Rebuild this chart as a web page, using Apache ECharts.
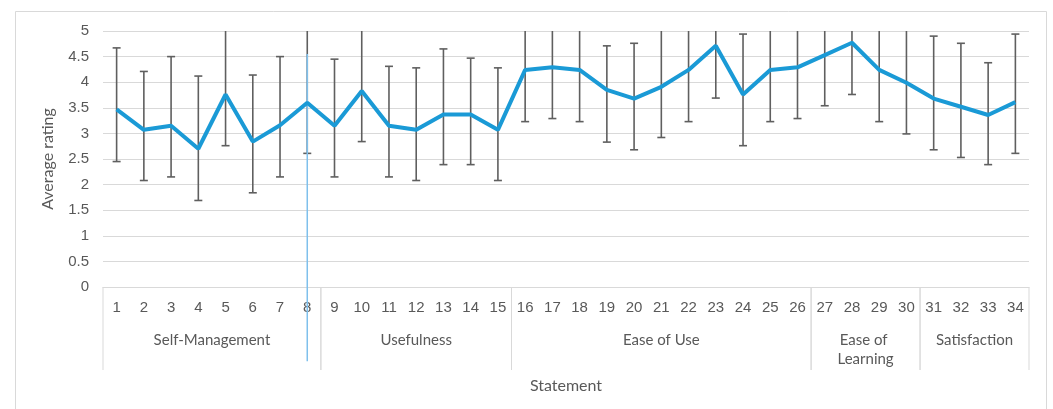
<!DOCTYPE html>
<html>
<head>
<meta charset="utf-8">
<script src="https://cdn.jsdelivr.net/npm/echarts@6/dist/echarts.min.js"></script>
<style>
  html, body { margin: 0; padding: 0; background: #fff; }
  #chart { width: 1053px; height: 409px; }
</style>
</head>
<body>
<div id="chart"></div>
<script>
  // statements 1..34
  const statements = Array.from({length: 34}, (_, i) => String(i + 1))
  // average rating per statement
  const means = [3.47, 3.07, 3.15, 2.70, 3.76, 2.84, 3.16, 3.60, 3.15, 3.83,
    3.15, 3.07, 3.37, 3.37, 3.07, 4.24, 4.29, 4.24, 3.85, 3.68,
    3.91, 4.24, 4.71, 3.76, 4.24, 4.29, 4.53, 4.77, 4.24, 3.99,
    3.68, 3.52, 3.36, 3.61]
  // error bar ends (5 = runs past the top of the axis)
  const errLow = [2.45, 2.08, 2.15, 1.69, 2.76, 1.84, 2.15, 2.61, 2.15, 2.84,
    2.15, 2.08, 2.39, 2.39, 2.08, 3.23, 3.29, 3.23, 2.83, 2.68,
    2.92, 3.23, 3.69, 2.76, 3.23, 3.29, 3.54, 3.76, 3.23, 2.99,
    2.68, 2.53, 2.39, 2.61]
  const errHigh = [4.67, 4.21, 4.50, 4.12, 5, 4.14, 4.50, 5, 4.45, 5,
    4.31, 4.28, 4.65, 4.47, 4.28, 5, 5, 5, 4.71, 4.76,
    5, 5, 5, 4.94, 5, 5, 5, 5, 5, 5,
    4.90, 4.76, 4.38, 4.94]
  // statement groups
  const groupNames = ['Self-Management', 'Usefulness', 'Ease of Use', 'Ease of Learning', 'Satisfaction']
  const groupStarts = [1, 9, 16, 27, 31]
  const groupEnds = [8, 15, 26, 30, 34]
  // the thin blue marker line near statement 8
  const markerAt = [7.1, 4.55, -1.45]

  const yMax = 5
  const textColor = '#595959'
  const gridColor = '#d9d9d9'

  const chart = echarts.init(document.getElementById('chart'))

  const option = {
    animation: false,
    backgroundColor: '#fff',
    grid: {left: 103, right: 24, top: 31, bottom: 122},
    graphic: [{
      type: 'rect',
      shape: {x: 15.5, y: 11.5, width: 1031, height: 420},
      style: {fill: 'none', stroke: gridColor, lineWidth: 1},
      silent: true
    }],
    xAxis: {
      type: 'category',
      data: statements,
      axisLine: {show: true, lineStyle: {color: gridColor, width: 1}},
      axisTick: {show: false},
      axisLabel: {
        interval: 0, margin: 13, color: textColor,
        fontFamily: 'Liberation Sans', fontSize: 15
      },
      name: 'Statement',
      nameLocation: 'middle',
      nameGap: 91,
      nameTextStyle: {color: textColor, fontFamily: 'Lato', fontSize: 16}
    },
    yAxis: {
      type: 'value',
      min: 0,
      max: yMax,
      interval: 0.5,
      axisLine: {show: false},
      axisTick: {show: false},
      axisLabel: {margin: 14, color: textColor, fontFamily: 'Liberation Sans', fontSize: 15},
      splitLine: {lineStyle: {color: gridColor, width: 1}},
      name: 'Average rating',
      nameLocation: 'middle',
      nameRotate: 90,
      nameGap: 47,
      nameTextStyle: {color: textColor, fontFamily: 'Lato', fontSize: 16}
    },
    series: [
      {
        // error bars
        type: 'custom',
        name: 'error',
        data: means.map((m, i) => [i, errLow[i], errHigh[i]]),
        renderItem: function (params, api) {
          const i = api.value(0)
          const lo = api.value(1)
          const hi = Math.min(api.value(2), yMax)
          const pLo = api.coord([i, lo])
          const pHi = api.coord([i, hi])
          const cap = 4
          const style = {stroke: '#5f5f5f', lineWidth: 1.6}
          const children = [{
            type: 'line',
            shape: {x1: pLo[0], y1: pLo[1], x2: pHi[0], y2: pHi[1]},
            style: style
          }, {
            type: 'line',
            shape: {x1: pLo[0] - cap, y1: pLo[1], x2: pLo[0] + cap, y2: pLo[1]},
            style: style
          }]
          if (api.value(2) < yMax) {
            children.push({
              type: 'line',
              shape: {x1: pHi[0] - cap, y1: pHi[1], x2: pHi[0] + cap, y2: pHi[1]},
              style: style
            })
          }
          return {type: 'group', children: children}
        }
      },
      {
        type: 'line',
        name: 'Average rating',
        data: means,
        symbol: 'none',
        lineStyle: {color: '#1a9ad6', width: 4},
        itemStyle: {color: '#1a9ad6'}
      },
      {
        // group boxes and labels under the statement numbers
        type: 'custom',
        name: 'groups',
        silent: true,
        data: groupNames.map((n, i) => [groupStarts[i] - 1, groupEnds[i] - 1]),
        renderItem: function (params, api) {
          const s = api.value(0)
          const e = api.value(1)
          const band = api.size([1, 0])[0]
          const p0 = api.coord([s, 0])
          const p1 = api.coord([e, 0])
          const left = p0[0] - band / 2
          const right = p1[0] + band / 2
          const top = p0[1]
          const lineStyle = {stroke: gridColor, lineWidth: 1}
          return {
            type: 'group',
            children: [{
              type: 'line',
              shape: {x1: left, y1: top, x2: left, y2: top + 83},
              style: lineStyle
            }, {
              type: 'line',
              shape: {x1: right, y1: top, x2: right, y2: top + 83},
              style: lineStyle
            }, {
              type: 'text',
              style: {
                text: groupNames[params.dataIndex],
                x: (left + right) / 2,
                y: top + 44,
                align: 'center',
                verticalAlign: 'top',
                width: (right - left) * 0.8,
                overflow: 'break',
                lineHeight: 19,
                fill: textColor,
                fontFamily: 'Lato',
                fontSize: 15
              }
            }]
          }
        }
      },
      {
        // stray vertical blue line
        type: 'custom',
        name: 'marker',
        silent: true,
        data: [markerAt],
        renderItem: function (params, api) {
          const a = api.coord([api.value(0), api.value(1)])
          const b = api.coord([api.value(0), api.value(2)])
          return {
            type: 'line',
            z2: 10,
            shape: {x1: a[0], y1: a[1], x2: b[0], y2: b[1]},
            style: {stroke: '#7fc0ec', lineWidth: 1.5}
          }
        }
      }
    ]
  }
  chart.setOption(option)
</script>
</body>
</html>
